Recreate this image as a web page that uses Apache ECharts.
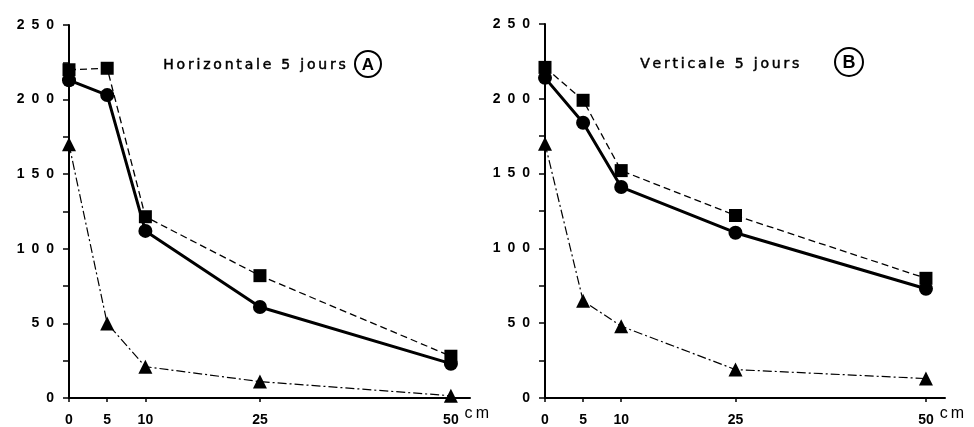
<!DOCTYPE html>
<html>
<head>
<meta charset="utf-8">
<script src="https://cdn.jsdelivr.net/npm/echarts@6/dist/echarts.min.js"></script>
<style>html,body{margin:0;padding:0;background:#fff}#c{width:974px;height:427px}</style>
</head>
<body>
<div id="c"></div>
<script>
// Depth (cm)
const xValues = [0, 5, 10, 25, 50];
const xTickLabels = [0, 5, 10, 25, 50];
const yTickLabels = [0, 50, 100, 150, 200, 250];
// Panel A : Horizontale 5 jours
const aSquare   = [220, 221, 121.5, 82, 28];
const aCircle   = [213, 203, 112, 61, 23];
const aTriangle = [170, 50, 21, 11, 1.5];
// Panel B : Verticale 5 jours
const bSquare   = [221, 199, 152, 122, 80];
const bCircle   = [214, 184, 141, 110.5, 73];
const bTriangle = [170, 65, 48, 19, 13];

const titleA = 'Horizontale 5 jours';
const titleB = 'Verticale 5 jours';
const unit = 'cm';

const FONT = "'Liberation Sans', Arial, sans-serif";
const TFONT = "'DejaVu Sans', sans-serif";
const track = (s, sep) => s.split('').join(sep);
const pairs = arr => xValues.map((x, i) => [x, arr[i]]);

const chart = echarts.init(document.getElementById('c'));

function xAxis(idx) {
  return {
    gridIndex: idx, type: 'value', min: 0, max: 52.5, interval: 5,
    axisLine: { show: true, lineStyle: { color: '#000', width: 2 } },
    axisTick: { show: true, customValues: xTickLabels, length: 4, lineStyle: { color: '#000', width: 1.5 } },
    splitLine: { show: false },
    axisLabel: {
      color: '#000', fontFamily: FONT, fontWeight: 'bold', fontSize: 14, margin: 15,
      showMaxLabel: false,
      formatter: v => xTickLabels.includes(v) ? String(v) : ''
    },
    name: track(unit, '\u2009'), nameLocation: 'end', nameGap: -24,
    nameTextStyle: { color: '#000', fontFamily: FONT, fontSize: 16, verticalAlign: 'top', align: 'left', padding: [8, 0, 0, 0] }
  };
}
function yAxis(idx) {
  return {
    gridIndex: idx, type: 'value', min: 0, max: 250, interval: 25,
    axisLine: { show: true, lineStyle: { color: '#000', width: 2 } },
    axisTick: { show: true, length: 6, lineStyle: { color: '#000', width: 1.5 } },
    splitLine: { show: false },
    axisLabel: {
      color: '#000', fontFamily: FONT, fontWeight: 'bold', fontSize: 14, margin: 15,
      formatter: v => yTickLabels.includes(v) ? track(String(v), '\u2002') : ''
    }
  };
}
function series(idx, sq, ci, tr) {
  return [
    { type: 'line', xAxisIndex: idx, yAxisIndex: idx, data: pairs(tr), symbol: 'triangle', symbolSize: 14,
      itemStyle: { color: '#000' }, lineStyle: { color: '#000', width: 1.2, type: [9, 3, 2, 3] }, z: 2 },
    { type: 'line', xAxisIndex: idx, yAxisIndex: idx, data: pairs(sq), symbol: 'rect', symbolSize: 13,
      itemStyle: { color: '#000' }, lineStyle: { color: '#000', width: 1.3, type: [7, 4] }, z: 3 },
    { type: 'line', xAxisIndex: idx, yAxisIndex: idx, data: pairs(ci), symbol: 'circle', symbolSize: 14,
      itemStyle: { color: '#000' }, lineStyle: { color: '#000', width: 3 }, z: 4 }
  ];
}

const titleStyle = (t) => ({ text: track(t, '\u2009'), fill: '#000', font: '14px ' + TFONT, stroke: '#000', lineWidth: 0.5 });

chart.setOption({
  animation: false,
  backgroundColor: '#fff',
  grid: [
    { left: 69, top: 25, width: 401, height: 377 },
    { left: 545, top: 24, width: 400, height: 375 }
  ],
  xAxis: [xAxis(0), xAxis(1)],
  yAxis: [yAxis(0), yAxis(1)],
  series: [...series(0, aSquare, aCircle, aTriangle), ...series(1, bSquare, bCircle, bTriangle)],
  graphic: [
    { type: 'text', left: 163, top: 58, style: titleStyle(titleA) },
    { type: 'circle', shape: { cx: 368, cy: 64, r: 13 }, style: { fill: '#fff', stroke: '#000', lineWidth: 2 } },
    { type: 'text', x: 368, y: 65, style: { text: 'A', fill: '#000', font: 'bold 17px ' + FONT, align: 'center', verticalAlign: 'middle' } },
    { type: 'text', left: 640, top: 57, style: titleStyle(titleB) },
    { type: 'circle', shape: { cx: 849, cy: 62, r: 14 }, style: { fill: '#fff', stroke: '#000', lineWidth: 2 } },
    { type: 'text', x: 849, y: 63, style: { text: 'B', fill: '#000', font: 'bold 18px ' + FONT, align: 'center', verticalAlign: 'middle' } }
  ]
});
</script>
</body>
</html>
